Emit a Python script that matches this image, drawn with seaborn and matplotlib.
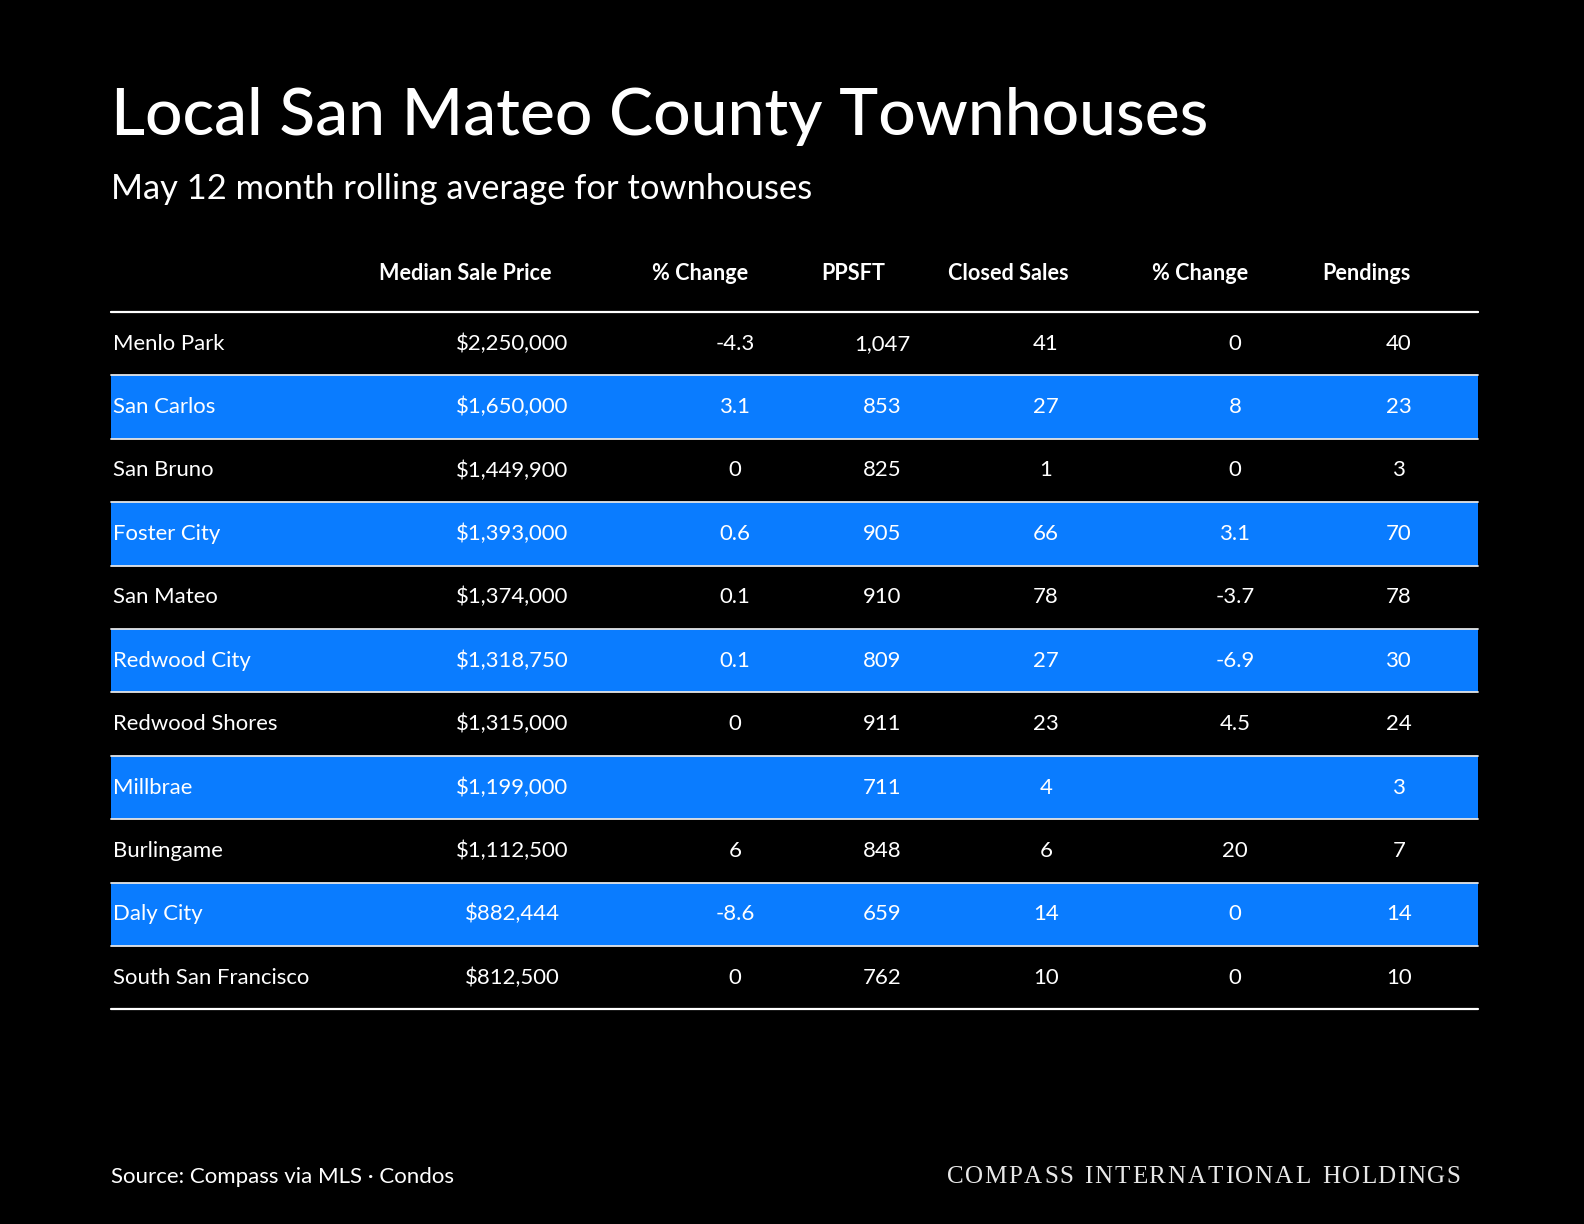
import matplotlib
matplotlib.use("Agg")
import matplotlib.pyplot as plt
import seaborn as sns
from matplotlib.textpath import TextPath
from matplotlib.font_manager import FontProperties

# Data
cities = ['Menlo Park', 'San Carlos', 'San Bruno', 'Foster City', 'San Mateo',
          'Redwood City', 'Redwood Shores', 'Millbrae', 'Burlingame', 'Daly City',
          'South San Francisco']
median_price = ['$2,250,000', '$1,650,000', '$1,449,900', '$1,393,000', '$1,374,000',
                '$1,318,750', '$1,315,000', '$1,199,000', '$1,112,500', '$882,444', '$812,500']
price_change = ['-4.3', '3.1', '0', '0.6', '0.1', '0.1', '0', '', '6', '-8.6', '0']
ppsft = ['1,047', '853', '825', '905', '910', '809', '911', '711', '848', '659', '762']
closed_sales = ['41', '27', '1', '66', '78', '27', '23', '4', '6', '14', '10']
sales_change = ['0', '8', '0', '3.1', '-3.7', '-6.9', '4.5', '', '20', '0', '0']
pendings = ['40', '23', '3', '70', '78', '30', '24', '3', '7', '14', '10']
headers = ['Median Sale Price', '% Change', 'PPSFT', 'Closed Sales', '% Change', 'Pendings']

sns.set_theme(style="dark")
plt.rcParams['font.family'] = ['Lato', 'DejaVu Sans']

BLUE = '#0a7cff'
W, H = 1584, 1224
fig = plt.figure(figsize=(W / 100, H / 100), dpi=100, facecolor='black')
ax = fig.add_axes([0, 0, 1, 1])
ax.set_facecolor('black')
ax.set_xlim(0, W)
ax.set_ylim(H, 0)
ax.axis('off')

left, right = 111, 1478
top = 312
row_h = 63.4
n = len(cities)

# alternating blue rows
for i in range(n):
    y0 = top + i * row_h
    if i % 2 == 1:
        ax.fill_between([left, right], y0, y0 + row_h, color=BLUE, lw=0, zorder=1)
    ax.plot([left, right], [y0, y0], color='#e6e6e6', lw=1.3, zorder=2)
ax.plot([left, right], [top, top], color='white', lw=1.6, zorder=3)
ax.plot([left, right], [top + n * row_h, top + n * row_h], color='white', lw=1.6, zorder=3)

# titles
ax.text(111, 117, 'Local San Mateo County Townhouses', color='white', fontsize=47.5,
        fontweight='medium', va='center', ha='left')
ax.text(111, 189, 'May 12 month rolling average for townhouses', color='white',
        fontsize=24.8, va='center', ha='left')

# header
header_x = [465, 700, 853, 1008, 1200, 1366]
for hx, h in zip(header_x, headers):
    ax.text(hx, 274, h, color='white', fontsize=15.6, fontweight='bold',
            ha='center', va='center')

# rows
value_x = [512, 735, 882, 1046, 1235, 1399]
columns = [median_price, price_change, ppsft, closed_sales, sales_change, pendings]
for i in range(n):
    yc = top + (i + 0.5) * row_h
    ax.text(113, yc, cities[i], color='white', fontsize=15.9, ha='left', va='center', zorder=4)
    for vx, col in zip(value_x, columns):
        ax.text(vx, yc, col[i], color='white', fontsize=15.9, ha='center', va='center', zorder=4)

# footer
ax.text(111, 1177, 'Source: Compass via MLS \u00b7 Condos', color='white', fontsize=16,
        ha='left', va='center')

# letter-spaced logo
logo = 'COMPASS INTERNATIONAL HOLDINGS'
fp = FontProperties(family='Liberation Serif', size=18)
scale = 100 / 72
track = 1.5
adv = []
for c in logo:
    if c == ' ':
        adv.append(9.0)
    else:
        tp = TextPath((0, 0), c, prop=fp)
        adv.append(tp.get_extents().x1 * scale + 1.0)
total = sum(adv) + track * (len(logo) - 1)
x = 1460 - total
for c, a in zip(logo, adv):
    ax.text(x, 1177, c, color='#e8e8e8', fontproperties=fp, ha='left', va='center')
    x += a + track

fig.savefig('out.png', dpi=100, facecolor='black')
